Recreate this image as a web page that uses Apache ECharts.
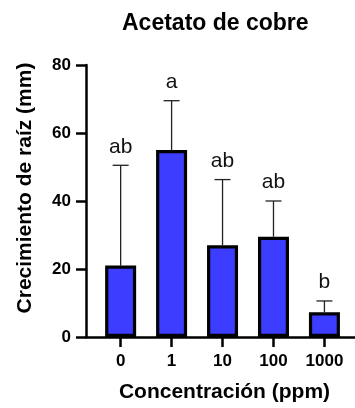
<!DOCTYPE html>
<html>
<head>
<meta charset="utf-8">
<script src="https://cdn.jsdelivr.net/npm/echarts@6/dist/echarts.min.js"></script>
<style>
html,body{margin:0;padding:0;background:#fff;}
#c{width:355px;height:408px;}
</style>
</head>
<body>
<div id="c"></div>
<script>
const categories = ['0', '1', '10', '100', '1000'];
const means = [21, 55, 27, 29.5, 7.3];
const upper = [50.5, 69.5, 46.3, 40, 10.6];
const letters = ['ab', 'a', 'ab', 'ab', 'b'];
const yTicks = [0, 20, 40, 60, 80];

const FONT = "'Liberation Sans', Arial, sans-serif";
const idx = categories.map((c, i) => i);

const chart = echarts.init(document.getElementById('c'));
chart.setOption({
  animation: false,
  backgroundColor: '#fff',
  title: {
    text: 'Acetato de cobre',
    left: 117, top: 7,
    textStyle: { fontFamily: FONT, fontSize: 23, fontWeight: 'bold', color: '#000' }
  },
  grid: { left: 86, right: 0, top: 65, bottom: 71 },
  xAxis: {
    type: 'value',
    min: -0.68, max: 4.6,
    splitLine: { show: false },
    axisLine: { show: true, onZero: false, lineStyle: { color: '#000', width: 2.5 } },
    axisTick: { show: true, customValues: idx, length: 10, lineStyle: { color: '#000', width: 2.5 } },
    axisLabel: {
      customValues: idx,
      formatter: v => categories[Math.round(v)],
      margin: 16, fontFamily: FONT, fontSize: 17, fontWeight: 'bold', color: '#000'
    },
    name: 'Concentración (ppm)',
    nameLocation: 'middle',
    nameGap: 45,
    nameTextStyle: { fontFamily: FONT, fontSize: 21, fontWeight: 'bold', color: '#000', padding: [0, 0, 0, 8] }
  },
  yAxis: {
    type: 'value',
    min: 0, max: 80, interval: 20,
    splitLine: { show: false },
    axisLine: { show: true, onZero: false, lineStyle: { color: '#000', width: 2.5 } },
    axisTick: { show: true, length: 10, customValues: yTicks, lineStyle: { color: '#000', width: 2.5 } },
    axisLabel: { customValues: yTicks, margin: 15, fontFamily: FONT, fontSize: 17, fontWeight: 'bold', color: '#000' },
    name: 'Crecimiento de raíz (mm)',
    nameLocation: 'middle',
    nameGap: 50,
    nameTextStyle: { fontFamily: FONT, fontSize: 21, fontWeight: 'bold', color: '#000', padding: [0, 0, 0, 26] }
  },
  series: [
    {
      type: 'custom',
      z: 1,
      data: idx.map(i => [i, means[i], upper[i]]),
      renderItem: function (params, api) {
        const x = api.value(0);
        const top = api.coord([x, api.value(2)]);
        const base = api.coord([x, api.value(1)]);
        const i = params.dataIndex;
        return {
          type: 'group',
          children: [
            { type: 'line', shape: { x1: top[0], y1: base[1], x2: top[0], y2: top[1] }, style: { stroke: '#222', lineWidth: 1.3 } },
            { type: 'line', shape: { x1: top[0] - 8, y1: top[1], x2: top[0] + 8, y2: top[1] }, style: { stroke: '#222', lineWidth: 1.3 } },
            { type: 'text', x: top[0], y: top[1] - 8, style: { text: letters[i], textAlign: 'center', textVerticalAlign: 'bottom', fontFamily: FONT, fontSize: 21, fill: '#111' } }
          ]
        };
      }
    },
    {
      type: 'bar',
      z: 2,
      barWidth: 31,
      data: idx.map(i => [i, means[i]]),
      itemStyle: { color: '#3d3dff', borderColor: '#000', borderWidth: 3.2 }
    }
  ]
});
</script>
</body>
</html>
